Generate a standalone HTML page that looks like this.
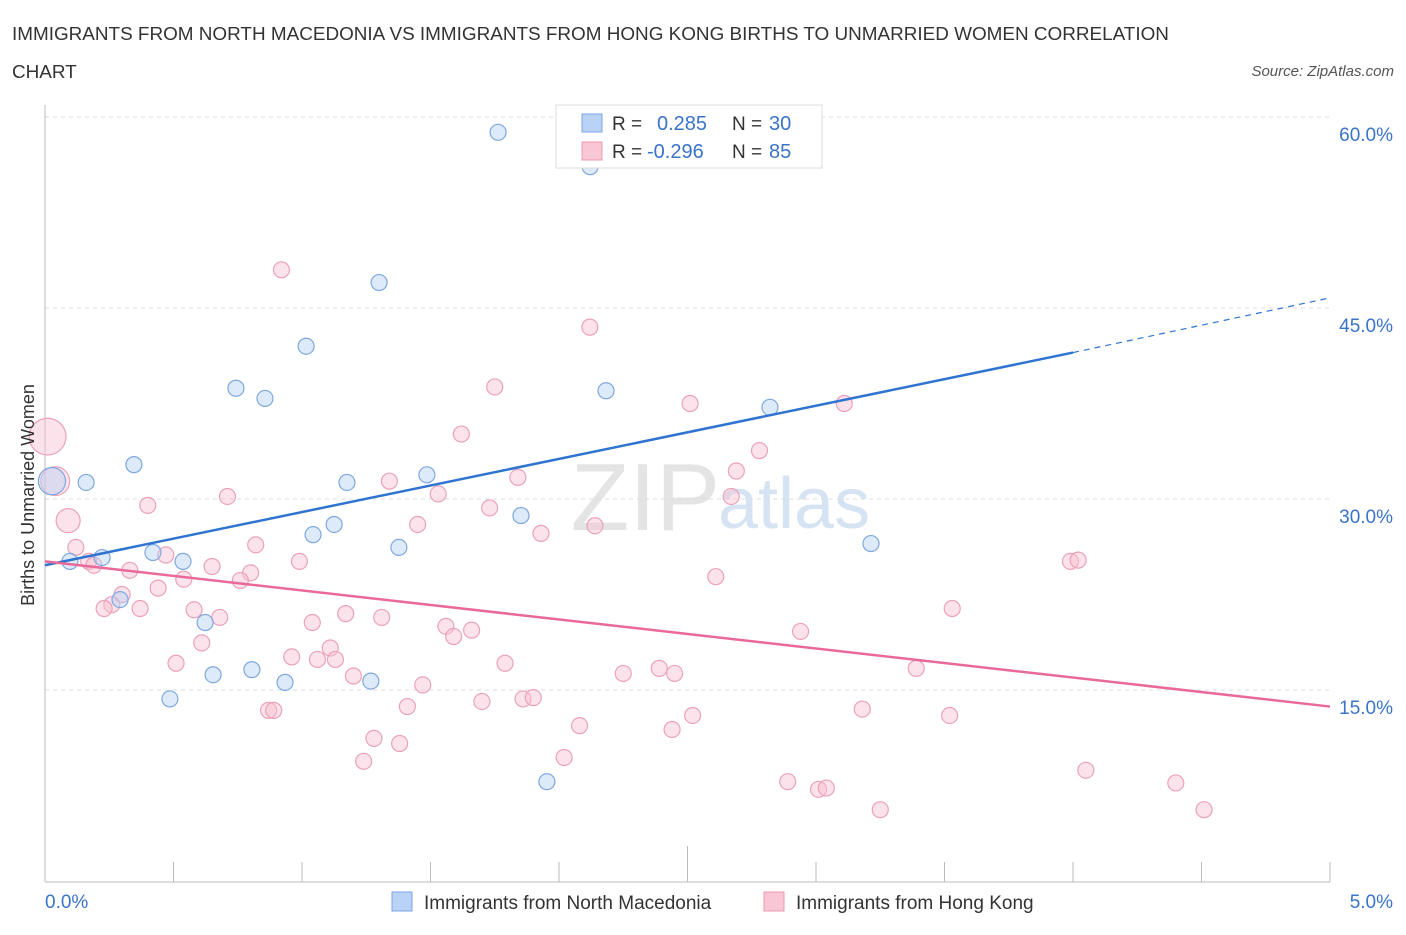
<!DOCTYPE html>
<html><head><meta charset="utf-8"><style>
body{margin:0;background:#fff;font-family:"Liberation Sans",sans-serif;}
svg text{font-family:"Liberation Sans",sans-serif;}
</style></head><body>
<svg id="c" width="1406" height="930" viewBox="0 0 1406 930">
<text x="12" y="40" font-size="18.9" fill="#333">IMMIGRANTS FROM NORTH MACEDONIA VS IMMIGRANTS FROM HONG KONG BIRTHS TO UNMARRIED WOMEN CORRELATION</text>
<text x="12" y="78" font-size="18.9" fill="#333">CHART</text>
<text x="1394" y="76" font-size="15" fill="#555" font-style="italic" text-anchor="end">Source: ZipAtlas.com</text>
<text x="720" y="530" font-size="96" fill="#e4e4e4" text-anchor="end" font-family="Liberation Serif">ZIP</text>
<text x="718" y="528" font-size="72" fill="#d6e3f3">atlas</text>
<g id="grid"></g><g id="axes"></g><g id="marks"></g>
<text x="34" y="495" font-size="18" fill="#333" transform="rotate(-90 34 495)" text-anchor="middle">Births to Unmarried Women</text>
<g>
<rect x="556" y="105" width="266" height="63" fill="#fff" stroke="#ddd"/>
<rect x="582" y="114" width="20" height="18" fill="#b8d3f5" stroke="#7aa6e0"/>
<text x="612" y="130" font-size="19" fill="#333">R =</text><text x="657" y="130" font-size="20" fill="#3a74c9">0.285</text>
<text x="732" y="130" font-size="19" fill="#333">N =</text><text x="769" y="130" font-size="20" fill="#3a74c9">30</text>
<rect x="582" y="142" width="20" height="18" fill="#f8c6d4" stroke="#eb9ab2"/>
<text x="612" y="158" font-size="19" fill="#333">R =</text><text x="647" y="158" font-size="20" fill="#3a74c9">-0.296</text>
<text x="732" y="158" font-size="19" fill="#333">N =</text><text x="769" y="158" font-size="20" fill="#3a74c9">85</text>
</g>
<g>
<rect x="392" y="892" width="20" height="19" fill="#b8d3f5" stroke="#7aa6e0"/>
<text x="424" y="909" font-size="19" fill="#333">Immigrants from North Macedonia</text>
<rect x="764" y="892" width="20" height="19" fill="#f8c6d4" stroke="#eb9ab2"/>
<text x="796" y="909" font-size="19" fill="#333">Immigrants from Hong Kong</text>
</g>
</svg>
<script>
const yTicks=[15,30,45,60];
const yTickLabels=["15.0%","30.0%","45.0%","60.0%"];
const xTicks=[0,0.5,1,1.5,2,2.5,3,3.5,4,4.5,5];
const xEndLabels=["0.0%","5.0%"];
const blueX=[1.763,2.121,1.300,1.016,0.743,0.856,2.183,2.821,0.346,0.160,0.027,1.175,1.486,1.852,1.125,1.043,1.377,3.214,0.420,0.537,0.097,0.222,0.292,0.623,0.654,0.805,0.934,1.268,0.486,1.953];
const blueY=[58.8,56.1,47.0,42.0,38.7,37.9,38.5,37.2,32.7,31.3,31.4,31.3,31.9,28.7,28.0,27.2,26.2,26.5,25.8,25.1,25.1,25.4,22.1,20.3,16.2,16.6,15.6,15.7,14.3,7.8];
const blueS=[1,1,1,1,1,1,1,1,1,1,1.7,1,1,1,1,1,1,1,1,1,1,1,1,1,1,1,1,1,1,1];
const pinkX=[0.92,2.12,1.75,2.51,3.11,1.62,2.78,0.01,0.04,2.69,1.84,1.34,0.71,1.53,2.67,0.40,1.73,0.09,1.45,2.14,1.93,0.82,0.12,0.17,0.19,0.47,0.99,3.99,4.02,0.33,0.65,0.54,0.80,0.76,2.61,0.44,0.30,0.26,0.23,0.37,0.58,0.68,1.17,1.31,3.53,1.04,1.56,1.66,1.59,2.94,0.61,1.11,0.96,1.06,1.13,1.79,0.51,2.39,2.45,2.25,3.39,1.20,1.47,1.70,1.86,1.90,1.41,3.18,0.87,0.89,2.52,3.52,2.08,2.44,1.28,1.38,2.02,1.24,4.05,2.89,3.01,3.04,4.40,3.25,4.51];
const pinkY=[48.0,43.5,38.8,37.5,37.5,35.1,33.8,34.9,31.4,32.2,31.7,31.4,30.2,30.4,30.2,29.5,29.3,28.3,28.0,27.9,27.3,26.4,26.2,25.1,24.8,25.6,25.1,25.1,25.2,24.4,24.7,23.7,24.2,23.6,23.9,23.0,22.5,21.7,21.4,21.4,21.3,20.7,21.0,20.7,21.4,20.3,20.0,19.7,19.2,19.6,18.7,18.3,17.6,17.4,17.4,17.1,17.1,16.7,16.3,16.3,16.7,16.1,15.4,14.1,14.3,14.4,13.7,13.5,13.4,13.4,13.0,13.0,12.2,11.9,11.2,10.8,9.7,9.4,8.7,7.8,7.2,7.3,7.7,5.6,5.6];
const pinkS=[1,1,1,1,1,1,1,2.3,1.8,1,1,1,1,1,1,1,1,1.5];
const blueTrend=[[0,24.8],[4,41.5],[5,45.8]];
const pinkTrend=[[0,25.1],[5,13.7]];
const NS='http://www.w3.org/2000/svg';
const X=v=>45+v*257, Y=v=>881-v*12.733;
function mk(t,a,p){const e=document.createElementNS(NS,t);for(const k in a)e.setAttribute(k,a[k]);p.appendChild(e);return e;}
const grid=document.getElementById('grid'),axes=document.getElementById('axes'),marks=document.getElementById('marks');
yTicks.forEach((t,i)=>{
 const l=mk('line',{x1:45,x2:1330,y1:Y(t),y2:Y(t),stroke:'#ddd','stroke-dasharray':'4,4'},grid);
 
 
 const tx=mk('text',{x:1393,y:Y(t)+24,'font-size':19,fill:'#3a74c9','text-anchor':'end'},axes);tx.textContent=yTickLabels[i];
 
 
});
const ax=mk('line',{x1:45,x2:1330,y1:882,y2:882,stroke:'#bbb'},axes);


const ay=mk('line',{x1:45,x2:45,y1:105,y2:882,stroke:'#bbb'},axes);


xTicks.forEach(t=>{const l=mk('line',{x1:X(t),x2:X(t),y1:t==2.5?846:862,y2:882,stroke:'#bbb'},axes);
 
 });
[[0,'start',45],[1,'end',1393]].forEach(([i,a,x])=>{const t=mk('text',{x:x,y:908,'font-size':19,fill:'#3a74c9','text-anchor':a},axes);t.textContent=xEndLabels[i];
 
 });
pinkX.forEach((v,i)=>{const c=mk('circle',{cx:X(v),cy:Y(pinkY[i]),r:8*(pinkS[i]||1),fill:'rgba(248,190,208,0.45)',stroke:'#eba2b9','stroke-width':1.2},marks);
 
 });
blueX.forEach((v,i)=>{const c=mk('circle',{cx:X(v),cy:Y(blueY[i]),r:8*blueS[i],fill:'rgba(180,208,245,0.45)',stroke:'#7ea8de','stroke-width':1.2},marks);
 
 });
const b1=mk('line',{x1:X(blueTrend[0][0]),y1:Y(blueTrend[0][1]),x2:X(blueTrend[1][0]),y2:Y(blueTrend[1][1]),stroke:'#2f74d0','stroke-width':2.5},marks);


const b2=mk('line',{x1:X(blueTrend[1][0]),y1:Y(blueTrend[1][1]),x2:X(blueTrend[2][0]),y2:Y(blueTrend[2][1]),stroke:'#2f74d0','stroke-width':1.2,'stroke-dasharray':'6,5'},marks);


const p1=mk('line',{x1:X(pinkTrend[0][0]),y1:Y(pinkTrend[0][1]),x2:X(pinkTrend[1][0]),y2:Y(pinkTrend[1][1]),stroke:'#e8699a','stroke-width':2.5},marks);


</script>
</body></html>
